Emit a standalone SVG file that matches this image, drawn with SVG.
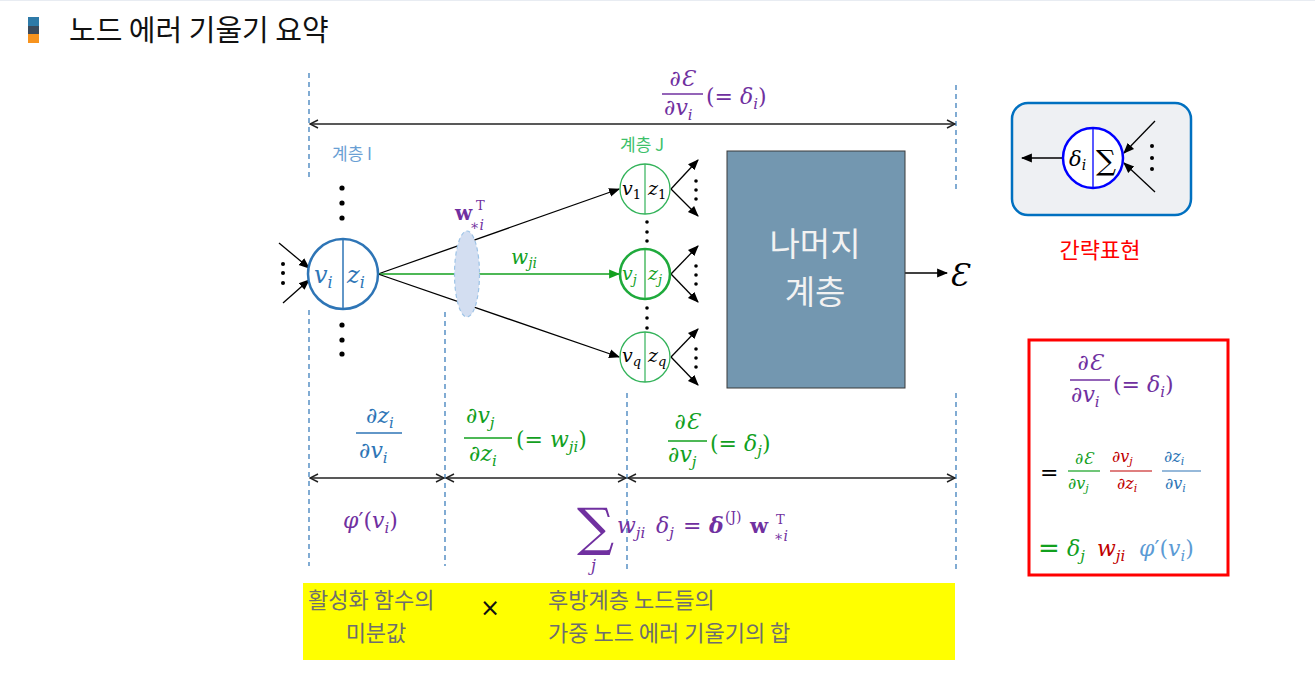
<svg xmlns="http://www.w3.org/2000/svg" width="1315" height="698" viewBox="0 0 1315 698">
<style>
.kr{font-family:"Noto Sans CJK KR","Noto Sans",sans-serif}
.m{font-family:"DejaVu Serif","Liberation Serif",serif;font-style:italic}
.n{font-style:normal}
.pu{fill:#7030A0}
.bl{fill:#2E75B6}
.gr{fill:#12A01E}
.rd{fill:#C00000}
.lb{fill:#5B9BD5}
.dash{stroke:#2E75B6;stroke-width:1.2;stroke-dasharray:5 4;fill:none}
.dim{stroke:#222;stroke-width:1.5;fill:none;marker-start:url(#open);marker-end:url(#open)}
.con{stroke:#000;stroke-width:1.3;fill:none;marker-end:url(#fill)}
.dot{fill:#000}
.yt{font-family:"Noto Sans CJK KR","Noto Sans",sans-serif;font-size:22px;fill:#6E6E6E}
</style>
<defs>
<marker id="open" viewBox="0 0 10 10" refX="9" refY="5" markerWidth="10" markerHeight="10" markerUnits="userSpaceOnUse" orient="auto-start-reverse">
<path d="M1,1 L9,5 L1,9" fill="none" stroke="#222" stroke-width="1.4"/>
</marker>
<marker id="fill" viewBox="0 0 10 10" refX="9" refY="5" markerWidth="11" markerHeight="11" markerUnits="userSpaceOnUse" orient="auto">
<path d="M0,1 L10,5 L0,9 Z" fill="#000"/>
</marker>
<marker id="gfill" viewBox="0 0 10 10" refX="9" refY="5" markerWidth="11" markerHeight="11" markerUnits="userSpaceOnUse" orient="auto">
<path d="M0,1 L10,5 L0,9 Z" fill="#12A01E"/>
</marker>
</defs>
<rect width="1315" height="698" fill="#fff"/>
<line x1="0" y1="0.5" x2="1315" y2="0.5" stroke="#E8ECF2" stroke-width="1"/>

<g id="title">
<rect x="28" y="17" width="11" height="9" fill="#2E7AA8"/>
<rect x="28" y="26" width="11" height="8" fill="#3B4A5C"/>
<rect x="28" y="34" width="11" height="9" fill="#F7931E"/>
<text class="kr" x="69" y="41" font-size="29" fill="#111">노드 에러 기울기 요약</text>
</g>

<g id="guides">
<line class="dash" x1="309" y1="73" x2="309" y2="178"/>
<line class="dash" x1="309" y1="310" x2="309" y2="566"/>
<line class="dash" x1="445" y1="312" x2="445" y2="566"/>
<line class="dash" x1="627" y1="393" x2="627" y2="570"/>
<line class="dash" x1="956" y1="85" x2="956" y2="190"/>
<line class="dash" x1="956" y1="393" x2="956" y2="570"/>
</g>

<g id="connectors">
<line class="dim" x1="310" y1="124" x2="955" y2="124"/>
<line class="dim" x1="310" y1="478" x2="444" y2="478"/>
<line class="dim" x1="446" y1="478" x2="626" y2="478"/>
<line class="dim" x1="628" y1="478" x2="955" y2="478"/>
<line class="con" x1="279" y1="243" x2="309" y2="268"/>
<line class="con" x1="283" y1="303" x2="309" y2="280"/>
<line class="con" x1="378" y1="274" x2="619" y2="189"/>
<line x1="378" y1="274" x2="619" y2="274" stroke="#12A01E" stroke-width="1.6" marker-end="url(#gfill)"/>
<line class="con" x1="378" y1="274" x2="619" y2="357"/>
<line class="con" x1="671" y1="189" x2="698" y2="160"/>
<line class="con" x1="671" y1="189" x2="698" y2="216"/>
<line class="con" x1="671" y1="274" x2="698" y2="246"/>
<line class="con" x1="671" y1="274" x2="698" y2="302"/>
<line class="con" x1="671" y1="357" x2="698" y2="329"/>
<line class="con" x1="671" y1="357" x2="698" y2="385"/>
<line class="con" x1="905" y1="273" x2="947" y2="273"/>
</g>

<g id="formula-top">
<text class="m pu" x="682" y="86" font-size="22" text-anchor="middle">∂Ɛ</text>
<line x1="662" y1="94" x2="703" y2="94" stroke="#7030A0" stroke-width="1.5"/>
<text class="m pu" x="664" y="115" font-size="22">∂v<tspan font-size="15" dy="5">i</tspan></text>
<text class="m pu" x="706" y="104" font-size="22"><tspan class="n">(= </tspan>δ<tspan font-size="15" dy="5">i</tspan><tspan class="n" dy="-5">)</tspan></text>
</g>

<g id="layer-labels">
<text class="kr" x="332" y="160" font-size="17" fill="#6A9FD4">계층 I</text>
<text class="kr" x="620" y="151" font-size="17" fill="#3CC06A">계층 J</text>
</g>

<g id="node-i">
<circle cx="343" cy="274" r="35" fill="#fff" stroke="#2E75B6" stroke-width="2.5"/>
<line x1="343" y1="239" x2="343" y2="309" stroke="#2E75B6" stroke-width="1.5"/>
<text class="m bl" x="314" y="283" font-size="24">v<tspan font-size="16" dy="5">i</tspan></text>
<text class="m bl" x="347" y="283" font-size="24">z<tspan font-size="16" dy="5">i</tspan></text>
<circle class="dot" cx="342" cy="188" r="2.6"/><circle class="dot" cx="342" cy="203" r="2.6"/><circle class="dot" cx="342" cy="218" r="2.6"/>
<circle class="dot" cx="342" cy="325" r="2.6"/><circle class="dot" cx="342" cy="340" r="2.6"/><circle class="dot" cx="342" cy="354" r="2.6"/>
<circle class="dot" cx="283" cy="264" r="2"/><circle class="dot" cx="283" cy="273" r="2"/><circle class="dot" cx="283" cy="283" r="2"/>
</g>

<g id="weights">
<ellipse cx="467" cy="274" rx="12.5" ry="43" fill="#D3DEF1" stroke="#9DC3E6" stroke-width="1.2" stroke-dasharray="4 3"/>
<text class="pu" x="455" y="220" font-size="20" font-family="DejaVu Serif,serif" font-weight="bold">w</text>
<text class="pu" x="476" y="210" font-size="13" font-family="DejaVu Serif,serif">T</text>
<text class="m pu" x="470" y="230" font-size="14">∗i</text>
<text class="m gr" x="511" y="264" font-size="20">w<tspan font-size="14" dy="4">ji</tspan></text>
</g>

<g id="node-1">
<circle cx="645" cy="189" r="25" fill="#fff" stroke="#33B35A" stroke-width="1.3"/>
<line x1="645" y1="164" x2="645" y2="214" stroke="#33B35A" stroke-width="1.2"/>
<text class="m" x="622" y="195" font-size="19" fill="#000">v<tspan font-size="13" dy="4" class="n">1</tspan></text>
<text class="m" x="648" y="195" font-size="19" fill="#000">z<tspan font-size="13" dy="4" class="n">1</tspan></text>
<circle class="dot" cx="696" cy="181" r="1.8"/><circle class="dot" cx="696" cy="190" r="1.8"/><circle class="dot" cx="696" cy="199" r="1.8"/>
</g>
<g id="node-j">
<circle cx="645" cy="274" r="25" fill="#fff" stroke="#1FAA3C" stroke-width="2.6"/>
<line x1="645" y1="249" x2="645" y2="299" stroke="#1FAA3C" stroke-width="1.2"/>
<text class="m gr" x="622" y="280" font-size="19">v<tspan font-size="13" dy="4">j</tspan></text>
<text class="m gr" x="648" y="280" font-size="19">z<tspan font-size="13" dy="4">j</tspan></text>
<circle class="dot" cx="696" cy="266" r="1.8"/><circle class="dot" cx="696" cy="275" r="1.8"/><circle class="dot" cx="696" cy="284" r="1.8"/>
</g>
<g id="node-q">
<circle cx="645" cy="357" r="25" fill="#fff" stroke="#33B35A" stroke-width="1.3"/>
<line x1="645" y1="332" x2="645" y2="382" stroke="#33B35A" stroke-width="1.2"/>
<text class="m" x="622" y="362" font-size="19" fill="#000">v<tspan font-size="13" dy="4">q</tspan></text>
<text class="m" x="648" y="362" font-size="19" fill="#000">z<tspan font-size="13" dy="4">q</tspan></text>
<circle class="dot" cx="696" cy="349" r="1.8"/><circle class="dot" cx="696" cy="358" r="1.8"/><circle class="dot" cx="696" cy="367" r="1.8"/>
</g>
<g id="vdots-j">
<circle class="dot" cx="647" cy="222" r="1.8"/><circle class="dot" cx="647" cy="232" r="1.8"/><circle class="dot" cx="647" cy="241" r="1.8"/>
<circle class="dot" cx="647" cy="308" r="1.8"/><circle class="dot" cx="647" cy="318" r="1.8"/><circle class="dot" cx="647" cy="328" r="1.8"/>
</g>

<g id="rest-layers">
<rect x="727" y="151" width="178" height="237" fill="#7397B0" stroke="#3A3A3A" stroke-width="1"/>
<text class="kr" x="815" y="256" font-size="33" fill="#F2F2F2" text-anchor="middle">나머지</text>
<text class="kr" x="815" y="304" font-size="33" fill="#F2F2F2" text-anchor="middle">계층</text>
</g>
<g id="error">
<text class="m" x="949" y="286" font-size="31" fill="#000">Ɛ</text>
</g>

<g id="shorthand">
<rect x="1012" y="103" width="179" height="112" rx="16" fill="#EEF0F3" stroke="#0070C0" stroke-width="2.5"/>
<line x1="1063" y1="158" x2="1022" y2="158" stroke="#000" stroke-width="1.3" marker-end="url(#fill)"/>
<line class="con" x1="1155" y1="121" x2="1124" y2="153"/>
<line class="con" x1="1155" y1="192" x2="1124" y2="163"/>
<circle cx="1093" cy="158" r="30" fill="#fff" stroke="#0000FF" stroke-width="2.5"/>
<line x1="1093" y1="128" x2="1093" y2="188" stroke="#0000FF" stroke-width="1.3"/>
<text class="m" x="1069" y="166" font-size="21" fill="#000">δ<tspan font-size="14" dy="4">i</tspan></text>
<text x="1096" y="170" font-size="28" font-family="DejaVu Serif,serif" fill="#000">∑</text>
<circle class="dot" cx="1152" cy="146" r="2"/><circle class="dot" cx="1152" cy="158" r="2"/><circle class="dot" cx="1152" cy="169" r="2"/>
<text class="kr" x="1100" y="258" font-size="22" fill="#FF0000" text-anchor="middle">간략표현</text>
</g>

<g id="formula-dzdv">
<text class="m bl" x="380" y="423" font-size="22" text-anchor="middle">∂z<tspan font-size="15" dy="5">i</tspan></text>
<line x1="356" y1="433" x2="402" y2="433" stroke="#2E75B6" stroke-width="1.5"/>
<text class="m bl" x="359" y="458" font-size="22">∂v<tspan font-size="15" dy="5">i</tspan></text>
</g>
<g id="formula-dvdz">
<text class="m gr" x="466" y="423" font-size="22">∂v<tspan font-size="15" dy="5">j</tspan></text>
<line x1="464" y1="438" x2="512" y2="438" stroke="#12A01E" stroke-width="1.5"/>
<text class="m gr" x="469" y="461" font-size="22">∂z<tspan font-size="15" dy="5">i</tspan></text>
<text class="m gr" x="516" y="447" font-size="22"><tspan class="n">(= </tspan>w<tspan font-size="15" dy="5">ji</tspan><tspan class="n" dy="-5">)</tspan></text>
</g>
<g id="formula-dedv">
<text class="m gr" x="687" y="429" font-size="22" text-anchor="middle">∂Ɛ</text>
<line x1="668" y1="441" x2="707" y2="441" stroke="#12A01E" stroke-width="1.5"/>
<text class="m gr" x="668" y="462" font-size="22">∂v<tspan font-size="15" dy="5">j</tspan></text>
<text class="m gr" x="710" y="451" font-size="22"><tspan class="n">(= </tspan>δ<tspan font-size="15" dy="5">j</tspan><tspan class="n" dy="-5">)</tspan></text>
</g>

<g id="formula-phi">
<text class="m pu" x="343" y="528" font-size="22">φ<tspan class="n">′(</tspan>v<tspan font-size="15" dy="5">i</tspan><tspan class="n" dy="-5">)</tspan></text>
</g>
<g id="formula-sum">
<text x="577" y="545" font-size="52" font-family="DejaVu Serif,serif" fill="#7030A0">∑</text>
<text class="m pu" x="591" y="571" font-size="16">j</text>
<text class="m pu" x="617" y="533" font-size="22">w<tspan font-size="15" dy="5">ji</tspan></text>
<text class="m pu" x="656" y="533" font-size="22">δ<tspan font-size="15" dy="5">j</tspan></text>
<text class="pu" x="683" y="533" font-size="22" font-family="DejaVu Serif,serif">=</text>
<text class="m pu" x="709" y="533" font-size="22" font-weight="bold">δ</text>
<text class="pu" x="725" y="522" font-size="14" font-family="DejaVu Serif,serif">(J)</text>
<text class="pu" x="750" y="533" font-size="21" font-family="DejaVu Serif,serif" font-weight="bold">w</text>
<text class="pu" x="776" y="524" font-size="13" font-family="DejaVu Serif,serif">T</text>
<text class="m pu" x="774" y="541" font-size="14">∗i</text>
</g>

<g id="summary-box">
<rect x="1029" y="340" width="199" height="235" fill="#fff" stroke="#FF0000" stroke-width="3"/>
<text class="m pu" x="1090" y="370" font-size="22" text-anchor="middle">∂Ɛ</text>
<line x1="1070" y1="380" x2="1110" y2="380" stroke="#7030A0" stroke-width="1.5"/>
<text class="m pu" x="1071" y="402" font-size="22">∂v<tspan font-size="15" dy="5">i</tspan></text>
<text class="m pu" x="1113" y="392" font-size="22"><tspan class="n">(= </tspan>δ<tspan font-size="15" dy="5">i</tspan><tspan class="n" dy="-5">)</tspan></text>

<text x="1040" y="480" font-size="22" font-family="DejaVu Sans,sans-serif" fill="#000">=</text>
<text class="m gr" x="1084" y="464" font-size="16" text-anchor="middle">∂Ɛ</text>
<line x1="1068" y1="471" x2="1100" y2="471" stroke="#12A01E" stroke-width="1.2"/>
<text class="m gr" x="1068" y="489" font-size="16">∂v<tspan font-size="11" dy="3">j</tspan></text>
<text class="m rd" x="1112" y="462" font-size="16">∂v<tspan font-size="11" dy="3">j</tspan></text>
<line x1="1110" y1="471" x2="1152" y2="471" stroke="#C00000" stroke-width="1.2"/>
<text class="m rd" x="1117" y="489" font-size="16">∂z<tspan font-size="11" dy="3">i</tspan></text>
<text class="m bl" x="1164" y="462" font-size="16">∂z<tspan font-size="11" dy="3">i</tspan></text>
<line x1="1162" y1="471" x2="1201" y2="471" stroke="#2E75B6" stroke-width="1.2"/>
<text class="m bl" x="1165" y="489" font-size="16">∂v<tspan font-size="11" dy="3">i</tspan></text>

<text x="1038" y="557" font-size="26" font-family="DejaVu Sans,sans-serif" class="gr">=</text>
<text class="m gr" x="1067" y="556" font-size="22">δ<tspan font-size="15" dy="5">j</tspan></text>
<text class="m rd" x="1097" y="556" font-size="22">w<tspan font-size="15" dy="5">ji</tspan></text>
<text class="m lb" x="1139" y="556" font-size="22">φ<tspan class="n">′(</tspan>v<tspan font-size="15" dy="5">i</tspan><tspan class="n" dy="-5">)</tspan></text>
</g>

<g id="explanation">
<rect x="303" y="583" width="652" height="77" fill="#FFFF00"/>
<text class="yt" x="308" y="608">활성화 함수의</text>
<text class="yt" x="376" y="641" text-anchor="middle">미분값</text>
<text x="490" y="616" font-size="24" font-family="DejaVu Sans,sans-serif" fill="#111" text-anchor="middle">×</text>
<text class="yt" x="548" y="608">후방계층 노드들의</text>
<text class="yt" x="548" y="641">가중 노드 에러 기울기의 합</text>
</g>
</svg>
